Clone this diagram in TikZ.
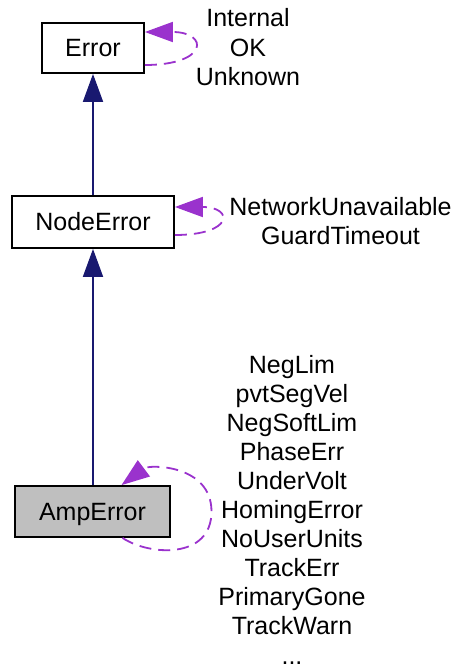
\documentclass[tikz,border=0pt]{standalone}
\usepackage{fontspec}
\setmainfont{Liberation Sans}
\usetikzlibrary{arrows.meta}
\definecolor{edgeblue}{HTML}{191970}
\definecolor{edgepurple}{HTML}{9A32CD}
\definecolor{boxgray}{HTML}{BFBFBF}
\tikzset{
  classbox/.style={draw=black, line width=1.8pt, fill=white, inner sep=0pt,
    text height=17.9pt, text depth=0pt, font=\fontsize{25pt}{29pt}\selectfont},
  inherit/.style={draw=edgeblue, line width=1.8pt, -{Triangle[length=28pt,width=20pt]}},
  usage/.style={draw=edgepurple, line width=1.8pt, dash pattern=on 12pt off 7pt,
    -{Triangle[length=28pt,width=20pt]}},
  vallabel/.style={anchor=base, inner sep=0pt, font=\fontsize{25pt}{29pt}\selectfont}
}
\begin{document}
\begin{tikzpicture}[x=1pt, y=-1pt]
  \useasboundingbox (0,0) rectangle (465,666);

  % classes
  \node[classbox, minimum width=102pt, minimum height=50pt] (err) at (93,48) {Error};
  \node[classbox, minimum width=162pt, minimum height=52pt] (nerr) at (93,222) {NodeError};
  \node[classbox, fill=boxgray, minimum width=155pt, minimum height=51pt] (amp) at (92.5,511.5) {AmpError};

  % inheritance
  \draw[inherit] (nerr.north) -- (err.south);
  \draw[inherit] (amp.north -| nerr.south) -- (nerr.south);

  % member loops
  \draw[usage] ([yshift=-17pt]err.east) .. controls +(64,0) and +(64,0) .. ([yshift=16pt]err.east);
  \draw[usage] ([yshift=-13pt]nerr.east) .. controls +(59,0) and +(59,0) .. ([yshift=15pt]nerr.east);
  \draw[usage] ([xshift=30pt]amp.south) .. controls +(27,18) and +(0,48) .. ([xshift=119pt]amp.center)
    .. controls +(0,-47) and +(28,-21) .. ([xshift=29pt]amp.north);

  % member names
  \foreach \lbl [count=\i] in {Internal,OK,Unknown} {
    \node[vallabel] (errval\i) at (248, 27+29.5*\i-29.5) {\lbl};
  }
  \foreach \lbl [count=\i] in {NegLim,pvtSegVel,NegSoftLim,PhaseErr,UnderVolt,HomingError,
      NoUserUnits,TrackErr,PrimaryGone,TrackWarn} {
    \node[vallabel] (ampval\i) at (292, 373+29.1*\i-29.1) {\lbl};
  }
  \node[vallabel] (nerrval1) at (340.5, 215) {NetworkUnavailable};
  \node[vallabel] (nerrval2) at (340.5, 244) {GuardTimeout};
  \node[vallabel] (ampmore) at (292, 664) {...};
\end{tikzpicture}
\end{document}
